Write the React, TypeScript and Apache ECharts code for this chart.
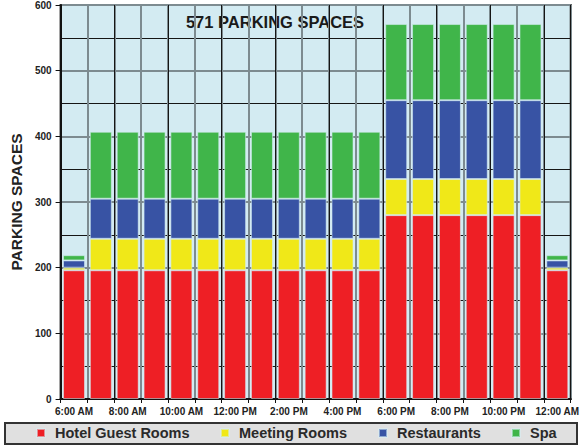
import React, { useEffect, useRef } from "react";
import * as echarts from "echarts";

const categories = [
  "6:00 AM", "7:00 AM", "8:00 AM", "9:00 AM", "10:00 AM", "11:00 AM",
  "12:00 PM", "1:00 PM", "2:00 PM", "3:00 PM", "4:00 PM", "5:00 PM",
  "6:00 PM", "7:00 PM", "8:00 PM", "9:00 PM", "10:00 PM", "11:00 PM",
  "12:00 AM",
];
const hotelGuestRooms = [196, 196, 196, 196, 196, 196, 196, 196, 196, 196, 196, 196, 280, 280, 280, 280, 280, 280, 196];
const meetingRooms = [4, 48, 48, 48, 48, 48, 48, 48, 48, 48, 48, 48, 55, 55, 55, 55, 55, 55, 4];
const restaurants = [11, 61, 61, 61, 61, 61, 61, 61, 61, 61, 61, 61, 120, 120, 120, 120, 120, 120, 11];
const spa = [8, 102, 102, 102, 102, 102, 102, 102, 102, 102, 102, 102, 116, 116, 116, 116, 116, 116, 8];
const yTicks = [0, 100, 200, 300, 400, 500, 600];
const chartTitle = "571 PARKING SPACES";
const yName = "PARKING SPACES";

const seriesDefs = [
  { name: "Hotel Guest Rooms", data: hotelGuestRooms, color: "#ee1f25" },
  { name: "Meeting Rooms", data: meetingRooms, color: "#f0e818" },
  { name: "Restaurants", data: restaurants, color: "#3853a4" },
  { name: "Spa", data: spa, color: "#40b54a" },
];
const legendLefts = [36, 220, 378, 511];

const FONT = "'Liberation Sans', Arial, Helvetica, sans-serif";

export default function App() {
  const ref = useRef<HTMLDivElement>(null);
  useEffect(() => {
    if (!ref.current) return;
    const chart = echarts.init(ref.current, undefined, { renderer: "svg" });
    const option: any = {
      animation: false,
      backgroundColor: "#ffffff",
      textStyle: { fontFamily: FONT },
      grid: {
        left: 57,
        right: 5,
        top: 4,
        bottom: 47,
        show: true,
        backgroundColor: "#d3ebf2",
        borderColor: "#2a2a2a",
        borderWidth: 2,
      },
      legend: seriesDefs.map((s, i) => ({
        data: [s.name],
        left: legendLefts[i],
        top: 425,
        padding: 0,
        icon: "rect",
        itemWidth: 8,
        itemHeight: 8,
        selectedMode: false,
        textStyle: {
          fontFamily: FONT,
          fontSize: 14.5,
          fontWeight: "bold",
          color: "#2a2a2a",
          lineHeight: 16,
          padding: [0, 0, 0, 5],
        },
      })),
      xAxis: [
        {
          type: "category",
          data: categories,
          boundaryGap: true,
          axisLine: { lineStyle: { color: "#111", width: 2 } },
          axisTick: { show: true, interval: 0, length: 4, lineStyle: { color: "#111" } },
          axisLabel: {
            interval: 1,
            margin: 7,
            fontSize: 10,
            fontWeight: "bold",
            color: "#222",
            fontFamily: FONT,
          },
          splitLine: { show: true, interval: 0, lineStyle: { color: "#7d8b90", width: 2 } },
        },
        {
          type: "value",
          min: 0,
          max: 19,
          interval: 2,
          position: "bottom",
          axisLine: { show: false },
          axisTick: { show: false },
          axisLabel: { show: false },
          splitLine: { show: true, lineStyle: { color: "#151515", width: 1 } },
        },
      ],
      yAxis: [
        {
          type: "value",
          min: yTicks[0],
          max: yTicks[yTicks.length - 1],
          interval: 100,
          name: yName,
          nameLocation: "middle",
          nameGap: 34,
          nameTextStyle: {
            fontFamily: FONT,
            fontSize: 15.5,
            fontWeight: "bold",
            color: "#222",
          },
          axisLine: { show: true, lineStyle: { color: "#111", width: 2 } },
          axisTick: { show: true, length: 5, lineStyle: { color: "#111" } },
          axisLabel: {
            margin: 9,
            fontSize: 10,
            fontWeight: "bold",
            color: "#222",
            fontFamily: FONT,
          },
          splitLine: { show: true, lineStyle: { color: "#7d8b90", width: 2 } },
        },
        {
          type: "value",
          min: 0,
          max: 600,
          interval: 50,
          axisLine: { show: false },
          axisTick: { show: false },
          axisLabel: { show: false },
          splitLine: {
            show: true,
            lineStyle: { color: ["rgba(0,0,0,0)", "#151515"], width: 1 },
          },
        },
      ],
      series: seriesDefs.map((s) => ({
        name: s.name,
        type: "bar",
        stack: "total",
        data: s.data,
        barWidth: 22,
        xAxisIndex: 0,
        yAxisIndex: 0,
        itemStyle: {
          color: s.color,
          borderColor: "rgba(215,238,244,0.55)",
          borderWidth: 1,
        },
      })),
      graphic: [
        {
          type: "rect",
          z: -1,
          shape: { x: 5, y: 423, width: 572, height: 21 },
          style: { fill: "#e0e0e0", stroke: "#333", lineWidth: 2 },
        },
        {
          type: "text",
          x: 275,
          y: 22,
          style: {
            text: chartTitle,
            fontFamily: FONT,
            fontSize: 16.5,
            fontWeight: "bold",
            fill: "#1a1a1a",
            textAlign: "center",
            textVerticalAlign: "middle",
          },
        },
      ],
    };
    chart.setOption(option);
    return () => chart.dispose();
  }, []);
  return (
    <div
      ref={ref}
      style={{ position: "fixed", left: 0, top: 0, width: 582, height: 446 }}
    />
  );
}
